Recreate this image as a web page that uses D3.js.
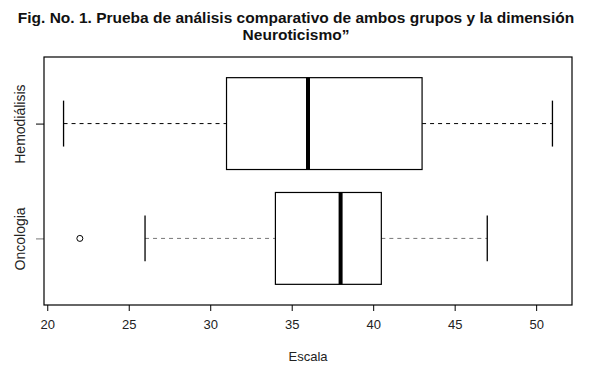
<!DOCTYPE html>
<html>
<head>
<meta charset="utf-8">
<script src="https://cdn.jsdelivr.net/npm/d3@7"></script>
<style>
  body { margin: 0; background: #fff; }
  text { font-family: "Liberation Sans", Arial, sans-serif; }
</style>
</head>
<body>
<div id="chart"></div>
<script>
// values
const groups = ['Oncologia', 'Hemodiálisis'];
const whiskerLow = [26, 21];
const q1 = [34, 31];
const medians = [38, 36];
const q3 = [40.5, 43];
const whiskerHigh = [47, 51];
const outliers = [[22], []];
const xTicks = [20, 25, 30, 35, 40, 45, 50];
const whiskerColors = ['#777', '#000'];

const W = 593, H = 370;
const margin = {top: 57, right: 21, bottom: 65, left: 44};
const width = W - margin.left - margin.right;
const height = H - margin.top - margin.bottom;

const svg = d3.select('#chart')
    .append('svg')
    .attr('width', W)
    .attr('height', H);

const g = svg.append('g')
    .attr('transform', `translate(${margin.left},${margin.top})`);

const x = d3.scaleLinear().domain([19.8, 52.2]).range([0, width]);
const y = d3.scaleLinear().domain([0.42, 2.58]).range([height, 0]);

const boxH = y(0) - y(0.8);
const stapleH = y(0) - y(0.4);

// axes
g.append('g')
    .attr('transform', `translate(0,${height})`)
    .call(d3.axisBottom(x).tickValues(xTicks).tickSize(6).tickPadding(9))
    .call(a => a.select('.domain').remove())
    .call(a => a.selectAll('text').attr('font-size', 13).attr('fill', '#222'));

g.append('g')
    .call(d3.axisLeft(y).tickValues([1, 2]).tickFormat((d, i) => groups[i]).tickSize(8).tickPadding(10))
    .call(a => a.select('.domain').remove())
    .call(a => a.selectAll('line').attr('stroke', (d, i) => i === 0 ? '#777' : '#000'))
    .call(a => a.selectAll('text')
        .attr('font-size', 14)
        .attr('fill', '#222')
        .attr('text-anchor', 'middle')
        .attr('transform', 'rotate(-90)')
        .attr('x', 0)
        .attr('y', -24)
        .attr('dy', '0.35em'));

// plot frame
g.append('rect')
    .attr('width', width)
    .attr('height', height)
    .attr('fill', 'none')
    .attr('stroke', '#000')
    .attr('stroke-width', 1.2);

groups.forEach((name, i) => {
    const cy = y(i + 1);
    const box = g.append('g');

    // whiskers
    box.selectAll('.whisker')
        .data([[whiskerLow[i], q1[i]], [q3[i], whiskerHigh[i]]])
        .enter().append('line')
        .attr('x1', d => x(d[0]))
        .attr('x2', d => x(d[1]))
        .attr('y1', cy)
        .attr('y2', cy)
        .attr('stroke', whiskerColors[i])
        .attr('stroke-dasharray', '4,4');

    // staples
    box.selectAll('.staple')
        .data([whiskerLow[i], whiskerHigh[i]])
        .enter().append('line')
        .attr('x1', d => x(d))
        .attr('x2', d => x(d))
        .attr('y1', cy - stapleH / 2)
        .attr('y2', cy + stapleH / 2)
        .attr('stroke', '#000')
        .attr('stroke-width', 1.3);

    box.append('rect')
        .attr('x', x(q1[i]))
        .attr('y', cy - boxH / 2)
        .attr('width', x(q3[i]) - x(q1[i]))
        .attr('height', boxH)
        .attr('fill', '#fff')
        .attr('stroke', '#000')
        .attr('stroke-width', 1.2);

    box.append('line')
        .attr('x1', x(medians[i]))
        .attr('x2', x(medians[i]))
        .attr('y1', cy - boxH / 2)
        .attr('y2', cy + boxH / 2)
        .attr('stroke', '#000')
        .attr('stroke-width', 4);

    box.selectAll('.outlier')
        .data(outliers[i])
        .enter().append('circle')
        .attr('cx', d => x(d))
        .attr('cy', cy)
        .attr('r', 3)
        .attr('fill', 'none')
        .attr('stroke', '#000');
});

// title
const title = svg.append('text')
    .attr('text-anchor', 'middle')
    .attr('font-size', 15.5)
    .attr('font-weight', 'bold')
    .attr('fill', '#111');
title.append('tspan').attr('x', 296).attr('y', 23)
    .text('Fig. No. 1. Prueba de análisis comparativo de ambos grupos y la dimensión');
title.append('tspan').attr('x', 296).attr('y', 40)
    .text('Neuroticismo”');

// x axis label
svg.append('text')
    .attr('text-anchor', 'middle')
    .attr('x', margin.left + width / 2)
    .attr('y', 361)
    .attr('font-size', 13)
    .attr('fill', '#222')
    .text('Escala');
</script>
</body>
</html>
